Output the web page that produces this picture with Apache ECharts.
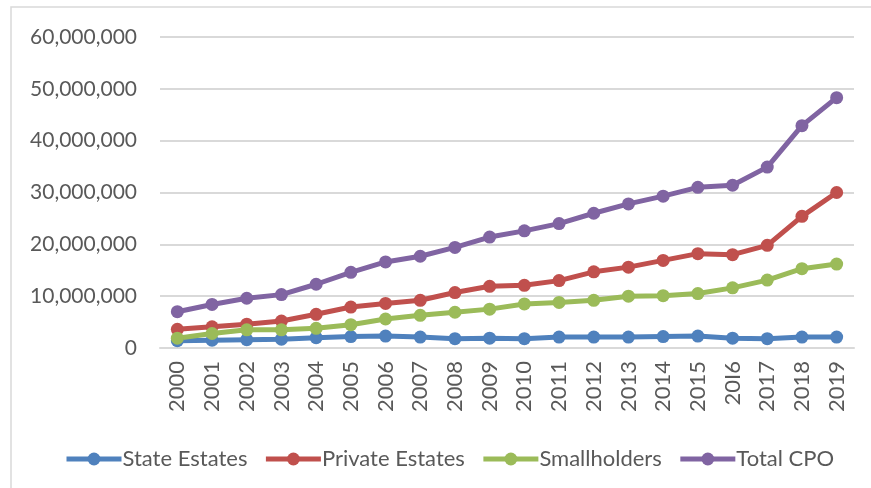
<!DOCTYPE html>
<html><head><meta charset="utf-8">
<script src="https://cdn.jsdelivr.net/npm/echarts@6/dist/echarts.min.js"></script>
<style>html,body{margin:0;padding:0;background:#fff}#c{width:871px;height:488px}</style>
</head><body><div id="c"></div>
<script>
const years = ['2000','2001','2002','2003','2004','2005','2006','2007','2008','2009','2010','2011','2012','2013','2014','2015','20I6','2017','2018','2019'];
const stateEstates = [1400000,1500000,1600000,1700000,2000000,2200000,2300000,2100000,1800000,1900000,1800000,2100000,2100000,2100000,2200000,2300000,1900000,1800000,2100000,2100000];
const privateEstates = [3600000,4100000,4600000,5200000,6500000,7900000,8600000,9200000,10700000,11900000,12100000,13000000,14700000,15600000,16900000,18200000,18000000,19800000,25400000,30000000];
const smallholders = [1900000,2800000,3500000,3500000,3800000,4500000,5600000,6300000,6900000,7500000,8500000,8800000,9200000,10000000,10100000,10500000,11600000,13100000,15300000,16200000];
const totalCPO = [7000000,8400000,9600000,10300000,12300000,14600000,16600000,17700000,19400000,21400000,22600000,24000000,26000000,27800000,29300000,31000000,31400000,34900000,42900000,48300000];
const seriesNames = ['State Estates','Private Estates','Smallholders','Total CPO'];
const colors = ['#4F81BD','#C0504D','#9BBB59','#8064A2'];

const chart = echarts.init(document.getElementById('c'), null, {renderer:'canvas'});
const font = 'Lato';
const mk = (name, data, i) => ({
  name, type:'line', data, color: colors[i],
  symbol:'circle', symbolSize:13,
  lineStyle:{width:5, color: colors[i]},
  itemStyle:{color: colors[i]},
  emphasis:{disabled:true}, animation:false
});
chart.setOption({
  animation:false,
  graphic:[{type:'rect', shape:{x:11, y:7, width:900, height:520}, style:{fill:'none', stroke:'#d9d9d9', lineWidth:1.5}, silent:true}],
  grid:{left:160, right:17, top:37, bottom:140, containLabel:false},
  legend:{
    bottom:13, left:59, itemWidth:55, itemHeight:16, itemGap:16,
    lineStyle:{width:5},
    textStyle:{fontFamily:font, fontSize:22, color:'#595959', padding:[0,0,0,-4]},
    data: seriesNames
  },
  xAxis:{
    type:'category', data:years, boundaryGap:true,
    axisLine:{show:true, lineStyle:{color:'#d9d9d9', width:2}},
    axisTick:{show:false},
    axisLabel:{rotate:90, interval:0, fontFamily:font, fontSize:22, color:'#595959', margin:13}
  },
  yAxis:{
    type:'value', min:0, max:60000000, interval:10000000,
    axisLine:{show:false}, axisTick:{show:false},
    splitLine:{lineStyle:{color:'#d9d9d9', width:2}},
    axisLabel:{fontFamily:font, fontSize:21, color:'#595959', margin:23,
      formatter: v => v.toLocaleString('en-US')}
  },
  series:[mk(seriesNames[0], stateEstates,0), mk(seriesNames[1], privateEstates,1), mk(seriesNames[2], smallholders,2), mk(seriesNames[3], totalCPO,3)]
});
</script></body></html>
